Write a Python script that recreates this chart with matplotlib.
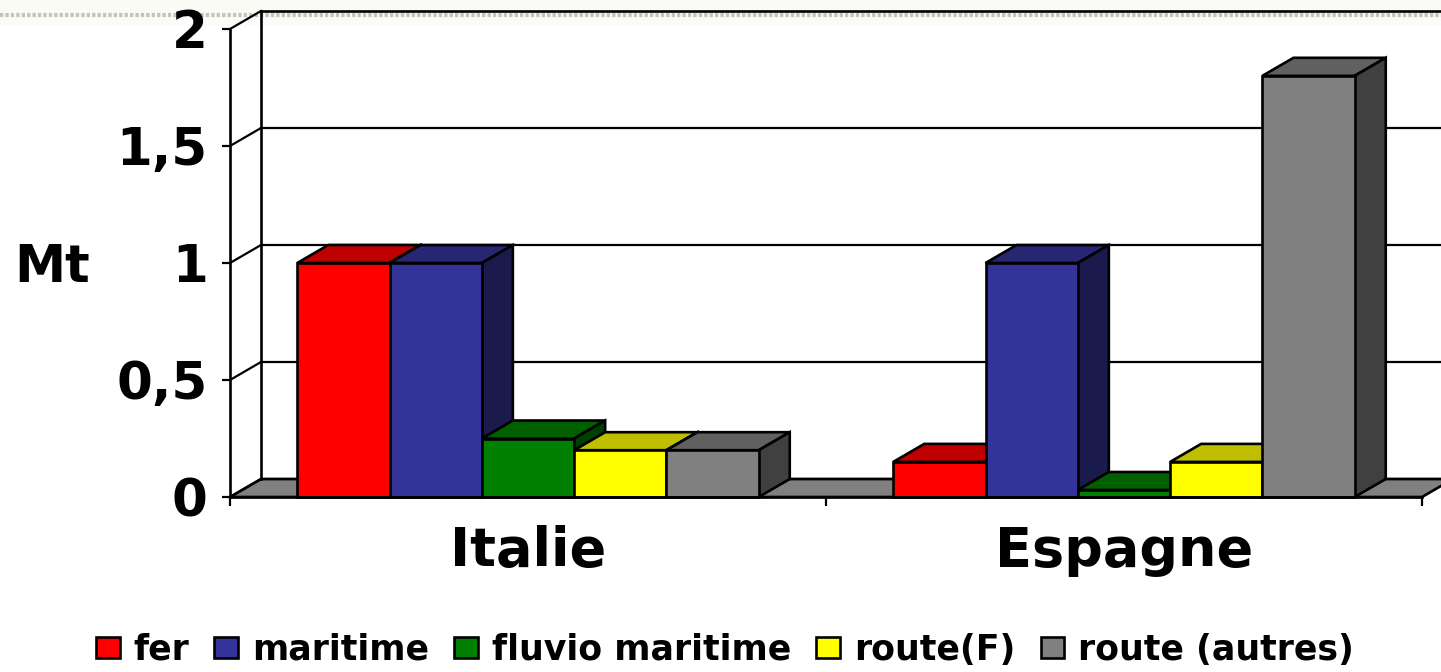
import matplotlib
matplotlib.use('Agg')
import matplotlib.pyplot as plt
import numpy as np
from matplotlib.colors import to_rgb
from matplotlib.lines import Line2D
from matplotlib.patches import Polygon, Rectangle

# Data
pays = ['Italie', 'Espagne']
modes = ['fer', 'maritime', 'fluvio maritime', 'route(F)', 'route (autres)']
fer = [1.0, 0.15]
maritime = [1.0, 1.0]
fluvio = [0.25, 0.03]
route_f = [0.2, 0.15]
route_autres = [0.2, 1.8]
y_ticks = [0, 0.5, 1, 1.5, 2]
y_labels = ['0', '0,5', '1', '1,5', '2']

series = [fer, maritime, fluvio, route_f, route_autres]
colors = ['#FF0000', '#333399', '#008000', '#FFFF00', '#808080']

W, H = 1441, 672
fig = plt.figure(figsize=(W / 100, H / 100), dpi=100)
ax = fig.add_axes([230 / W, 1 - 497 / H, 1192 / W, 468 / H])
ax.set_xlim(0, 2)
ax.set_ylim(0, 2)

# Profondeur de l'effet 3D, en unites de donnees
dx = 31 / 596
dy = 18 / 234
bar_w = 92.3 / 596
lw = 1.9


def shade(color, k):
    return tuple(c * k for c in to_rgb(color))


# Bande claire en haut de l'image
fig.add_artist(Rectangle((0, 1 - 12 / H), 1, 12 / H, transform=fig.transFigure,
                         color='#FBFBF6', lw=0, zorder=0))
fig.add_artist(Rectangle((0, 1 - 26 / H), 1, 14 / H, transform=fig.transFigure,
                         color='#FBFBFA', lw=0, zorder=0))
fig.add_artist(Line2D([0, 1], [1 - 15 / H, 1 - 15 / H], transform=fig.transFigure,
                      color='#C4C4B8', lw=3, ls=(0, (0.8, 0.5)), zorder=0))

# Fond : sol, murs et grille
ax.patch.set_visible(False)
ax.add_patch(Polygon([(0, 0), (dx, dy), (2 + dx, dy), (2, 0)], closed=True, facecolor='#808080',
                     edgecolor='black', lw=lw, clip_on=False, zorder=1))
for t in y_ticks:
    ax.plot([0, dx], [t, t + dy], color='black', lw=1.6, clip_on=False, zorder=1.5)
    ax.plot([dx, 2 + dx], [t + dy, t + dy], color='black', lw=1.6 if t < 2 else 1.9,
            clip_on=False, zorder=1.5)
ax.plot([dx, dx], [dy, 2 + dy], color='black', lw=1.9, clip_on=False, zorder=1.5)

# Barres
offsets = (np.arange(5) - 2) * bar_w
centers = np.array([0.5, 1.5])
z = 2
handles = []
for g in range(len(pays)):
    for i, vals in enumerate(series):
        left = centers[g] + offsets[i] - bar_w / 2
        right = left + bar_w
        v = vals[g]
        ax.add_patch(Polygon([(left, v), (left + dx, v + dy), (right + dx, v + dy), (right, v)],
                             closed=True, facecolor=shade(colors[i], 0.75), edgecolor='black',
                             lw=lw, clip_on=False, zorder=z))
        ax.add_patch(Polygon([(right, 0), (right + dx, dy), (right + dx, v + dy), (right, v)],
                             closed=True, facecolor=shade(colors[i], 0.5), edgecolor='black',
                             lw=lw, clip_on=False, zorder=z))
        b = ax.bar(centers[g] + offsets[i], v, width=bar_w, color=colors[i], edgecolor='black',
                   lw=lw, clip_on=False, zorder=z + 0.5)
        if g == 0:
            handles.append(b[0])
        z += 1

# Axes
for s in ['top', 'right']:
    ax.spines[s].set_visible(False)
for s in ['left', 'bottom']:
    ax.spines[s].set_linewidth(1.9)
    ax.spines[s].set_zorder(30)
ax.set_yticks(y_ticks, y_labels, fontsize=37, fontweight='bold')
ax.set_xticks([0, 1, 2], ['', '', ''])
ax.set_xticks(centers, pays, minor=True, fontsize=39, fontweight='bold')
ax.tick_params(axis='y', length=6, width=1.6, pad=10)
ax.tick_params(axis='x', which='major', length=6.5, width=1.6)
ax.tick_params(axis='x', which='minor', length=0, pad=20)
fig.text(14 / W, 1 - 282 / H, 'Mt', fontsize=37, fontweight='bold', ha='left', va='baseline')

fig.legend(handles, modes, loc='center', bbox_to_anchor=(725 / W, 1 - 650 / H), ncol=5, frameon=False,
           prop={'size': 25, 'weight': 'bold'}, handlelength=0.69, handleheight=0.55,
           handletextpad=0.4, columnspacing=0.72, borderpad=0, borderaxespad=0)

fig.savefig('out.png', dpi=100)
